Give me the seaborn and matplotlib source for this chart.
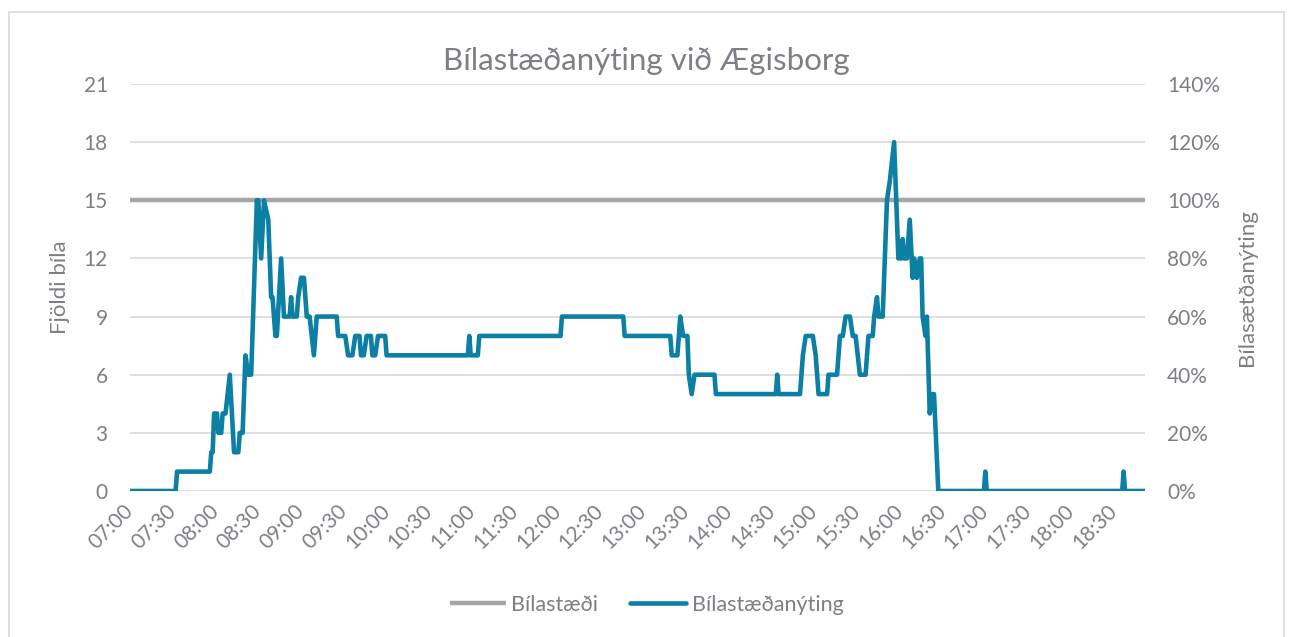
import pandas as pd
import numpy as np
import matplotlib
matplotlib.use("Agg")
import matplotlib.pyplot as plt
import seaborn as sns
from matplotlib.ticker import PercentFormatter, MultipleLocator
from matplotlib.patches import Rectangle

# Talning bíla við Ægisborg (lesið af myndinni, breytipunktar)
timar = [
    "07:00", "07:32", "07:33", "07:56", "07:57", "07:58", "07:59", "08:01", "08:02", "08:04",
    "08:05", "08:07", "08:10", "08:13", "08:16", "08:17", "08:19", "08:21", "08:23", "08:25",
    "08:29", "08:30", "08:32", "08:34", "08:37", "08:39", "08:40", "08:42", "08:43", "08:46",
    "08:48", "08:52", "08:53", "08:54", "08:57", "08:58", "09:00", "09:02", "09:04", "09:06",
    "09:09", "09:11", "09:25", "09:26", "09:31", "09:33", "09:36", "09:38", "09:41", "09:42",
    "09:44", "09:46", "09:49", "09:50", "09:52", "09:54", "09:59", "10:00", "10:57", "10:58",
    "10:59", "11:04", "11:05", "12:02", "12:03", "12:46", "12:47", "13:19", "13:20", "13:24",
    "13:26", "13:28", "13:31", "13:32", "13:34", "13:36", "13:50", "13:51", "14:33", "14:34",
    "14:35", "14:50", "14:52", "14:54", "14:59", "15:01", "15:03", "15:09", "15:10", "15:16",
    "15:18", "15:20", "15:22", "15:25", "15:27", "15:29", "15:32", "15:36", "15:38", "15:41",
    "15:42", "15:44", "15:45", "15:48", "15:51", "15:53", "15:56", "15:59", "16:01", "16:02",
    "16:03", "16:05", "16:07", "16:09", "16:10", "16:12", "16:14", "16:15", "16:16", "16:18",
    "16:19", "16:21", "16:23", "16:24", "16:27", "16:59", "17:00", "17:01", "18:36", "18:37",
    "18:38", "18:52",
]
fjoldi_bila = [
    0, 0, 1, 1, 2, 2, 4, 4, 3, 3,
    4, 4, 6, 2, 2, 3, 3, 7, 6, 6,
    15, 15, 12, 15, 14, 10, 10, 8, 8, 12,
    9, 9, 10, 9, 9, 10, 11, 11, 9, 9,
    7, 9, 9, 8, 8, 7, 7, 8, 8, 7,
    7, 8, 8, 7, 7, 8, 8, 7, 7, 8,
    7, 7, 8, 8, 9, 9, 8, 8, 7, 7,
    9, 8, 8, 6, 5, 6, 6, 5, 5, 6,
    5, 5, 7, 8, 8, 7, 5, 5, 6, 6,
    8, 8, 9, 9, 8, 8, 6, 6, 8, 8,
    9, 10, 9, 9, 15, 16, 18, 12, 12, 13,
    12, 12, 14, 11, 12, 11, 12, 12, 9, 8,
    9, 4, 5, 5, 0, 0, 1, 0, 0, 1,
    0, 0,
]

# Fjöldi stæða
staedi_timar = ["07:00", "18:52"]
bilastaedi = [15, 15]

tick_labels = [
    "07:00", "07:30", "08:00", "08:30", "09:00", "09:30", "10:00", "10:30",
    "11:00", "11:30", "12:00", "12:30", "13:00", "13:30", "14:00", "14:30",
    "15:00", "15:30", "16:00", "16:30", "17:00", "17:30", "18:00", "18:30",
]


def to_min(s):
    h, m = s.split(":")
    return (int(h) - 7) * 60 + int(m)


df = pd.DataFrame({"timi": [to_min(t) for t in timar], "bilar": fjoldi_bila})
cap = pd.DataFrame({"timi": [to_min(t) for t in staedi_timar], "staedi": bilastaedi})

sns.set_style("white")
plt.rcParams["font.family"] = ["Lato", "DejaVu Sans"]

txt = "#7e7e86"
blue = "#0b7fa4"
grey = "#a5a5a5"

fig = plt.figure(figsize=(12.93, 6.37), dpi=100)
ax = fig.add_axes([130 / 1293, 1 - 491 / 637, 1015 / 1293, 407 / 637])

sns.lineplot(data=cap, x="timi", y="staedi", ax=ax, color=grey, linewidth=3.2,
             label="Bílastæði", solid_capstyle="butt")
sns.lineplot(data=df, x="timi", y="bilar", ax=ax, color=blue, linewidth=3.3,
             label="Bílastæðanýting", solid_capstyle="round", solid_joinstyle="round")

ax.set_xlim(0, to_min("18:52"))
ax.set_ylim(0, 21)
ax.yaxis.set_major_locator(MultipleLocator(3))
ax.set_xticks([to_min(t) for t in tick_labels])
ax.set_xticklabels(tick_labels, rotation=45, ha="right", va="center", rotation_mode="anchor")
ax.yaxis.grid(True, color="#d9d9d9", linewidth=1.2)
ax.set_axisbelow(True)
for s in ax.spines.values():
    s.set_visible(False)
ax.tick_params(axis="y", length=0, pad=16, labelsize=15, labelcolor=txt)
ax.tick_params(axis="x", length=0, pad=12, labelsize=15, labelcolor=txt)
ax.set_xlabel("")
ax.set_ylabel("Fjöldi bíla", fontsize=16, color=txt, labelpad=10)

ax2 = ax.twinx()
ax2.set_ylim(0, 1.4)
ax2.yaxis.set_major_locator(MultipleLocator(0.2))
ax2.yaxis.set_major_formatter(PercentFormatter(1.0, decimals=0))
for s in ax2.spines.values():
    s.set_visible(False)
ax2.tick_params(axis="y", length=0, pad=16, labelsize=15, labelcolor=txt)
ax2.set_ylabel("Bílasætðanýting", fontsize=16, color=txt, labelpad=12)

h, l = ax.get_legend_handles_labels()
ax.legend_.remove()
fig.legend(h, l, loc="center", bbox_to_anchor=(0.5, 1 - 605 / 637), ncol=2,
           frameon=False, fontsize=15.5, labelcolor=txt, handlelength=2.6,
           handletextpad=0.25, columnspacing=1.5)

fig.text(0.5, 1 - 61 / 637, "Bílastæðanýting við Ægisborg", ha="center", va="center",
         fontsize=22.5, color=txt)

fig.patches.append(Rectangle((9 / 1293, -0.05), 1275 / 1293, 1.05 - 12 / 637,
                             transform=fig.transFigure, fill=False,
                             edgecolor="#d9d9d9", linewidth=1.2))

fig.savefig("out.png", dpi=100, facecolor="white")
